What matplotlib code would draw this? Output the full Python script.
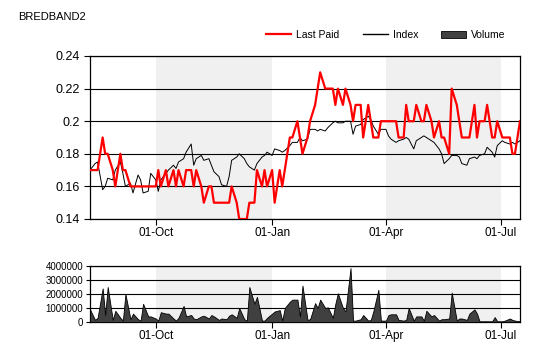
import numpy as np
import pandas as pd
import matplotlib
matplotlib.use("Agg")
import matplotlib.pyplot as plt
import matplotlib.dates as mdates
from matplotlib.ticker import FuncFormatter, MultipleLocator
from matplotlib.lines import Line2D
from matplotlib.patches import Patch

plt.rcParams['font.family'] = ['Liberation Sans', 'DejaVu Sans']

# every second trading day, Aug 2012 - Jul 2013
dates = pd.bdate_range('2012-08-10', periods=122, freq='2B')

last_paid = [
    0.17, 0.17, 0.17, 0.19, 0.18, 0.18, 0.17, 0.16, 0.18, 0.17,
    0.17, 0.16, 0.16, 0.16, 0.16, 0.16, 0.16, 0.16, 0.16, 0.17,
    0.16, 0.17, 0.16, 0.17, 0.16, 0.17, 0.16, 0.17, 0.17, 0.16,
    0.17, 0.16, 0.15, 0.16, 0.16, 0.15, 0.15, 0.15, 0.15, 0.15,
    0.16, 0.15, 0.14, 0.14, 0.14, 0.15, 0.15, 0.17, 0.16, 0.17,
    0.16, 0.17, 0.15, 0.17, 0.16, 0.17, 0.19, 0.19, 0.20, 0.19,
    0.18, 0.19, 0.20, 0.21, 0.22, 0.23, 0.22, 0.22, 0.22, 0.21,
    0.22, 0.21, 0.22, 0.21, 0.20, 0.21, 0.21, 0.19, 0.21, 0.20,
    0.19, 0.19, 0.20, 0.20, 0.20, 0.20, 0.20, 0.19, 0.19, 0.21,
    0.20, 0.20, 0.21, 0.20, 0.20, 0.21, 0.20, 0.19, 0.20, 0.19,
    0.19, 0.18, 0.22, 0.21, 0.20, 0.19, 0.19, 0.19, 0.21, 0.19,
    0.20, 0.20, 0.21, 0.19, 0.19, 0.20, 0.19, 0.19, 0.19, 0.18,
    0.18, 0.20,
]

index = [
    0.170, 0.174, 0.175, 0.158, 0.160, 0.165, 0.164, 0.170, 0.175, 0.168,
    0.160, 0.162, 0.156, 0.167, 0.164, 0.156, 0.157, 0.168, 0.164, 0.157,
    0.164, 0.168, 0.170, 0.173, 0.171, 0.175, 0.177, 0.181, 0.186, 0.173,
    0.177, 0.179, 0.176, 0.177, 0.173, 0.169, 0.166, 0.161, 0.160, 0.166,
    0.176, 0.178, 0.180, 0.177, 0.174, 0.172, 0.170, 0.174, 0.178, 0.179,
    0.181, 0.179, 0.183, 0.182, 0.181, 0.182, 0.185, 0.187, 0.187, 0.190,
    0.188, 0.189, 0.195, 0.195, 0.194, 0.195, 0.194, 0.196, 0.199, 0.200,
    0.199, 0.199, 0.200, 0.200, 0.192, 0.197, 0.198, 0.201, 0.203, 0.201,
    0.197, 0.192, 0.195, 0.195, 0.191, 0.189, 0.187, 0.188, 0.189, 0.190,
    0.189, 0.183, 0.188, 0.190, 0.191, 0.190, 0.188, 0.187, 0.183, 0.180,
    0.174, 0.177, 0.179, 0.179, 0.178, 0.174, 0.173, 0.177, 0.178, 0.177,
    0.179, 0.180, 0.184, 0.181, 0.178, 0.185, 0.188, 0.187, 0.186, 0.187,
    0.186, 0.188,
]

# volume in millions of shares
volume_m = [
    0.9, 0.15, 0.3, 2.4, 0.5, 2.5, 0.15, 0.8, 0.3, 0.1,
    2.0, 0.2, 0.6, 0.2, 0.1, 1.3, 0.4, 0.4, 0.25, 0.1,
    0.7, 0.6, 0.6, 0.25, 0.1, 0.3, 1.15, 0.4, 0.5, 0.25,
    0.2, 0.4, 0.45, 0.25, 0.5, 0.4, 0.15, 0.25, 0.2, 0.45,
    0.55, 0.3, 1.0, 0.2, 0.1, 2.5, 1.3, 1.8, 0.1, 0.1,
    0.3, 0.6, 0.75, 0.85, 0.1, 1.0, 1.45, 1.6, 1.6, 0.4,
    2.6, 0.15, 0.2, 1.35, 1.0, 1.6, 1.0, 1.05, 0.3, 1.3,
    2.05, 1.0, 0.75, 3.85, 0.1, 0.1, 0.2, 0.5, 0.1, 0.15,
    0.75, 2.3, 0.1, 0.1, 0.5, 0.55, 0.55, 0.15, 0.1, 0.15,
    1.0, 0.1, 0.4, 0.4, 0.1, 0.8, 0.4, 0.5, 0.1, 0.2,
    0.2, 0.25, 2.1, 0.1, 0.25, 0.25, 0.15, 0.6, 0.9, 0.6,
    0.05, 0.05, 0.05, 0.05, 0.35, 0.05, 0.05, 0.1, 0.25, 0.15,
    0.1, 0.05,
]
volume = np.array(volume_m) * 1e6

shaded = [('2012-10-01', '2013-01-01'), ('2013-04-01', '2013-07-01')]

fig = plt.figure(figsize=(5.4, 3.6), dpi=100)
ax = fig.add_axes([90/540, 1-219/360, 430/540, 163/360])
axv = fig.add_axes([90/540, 1-322/360, 430/540, 56/360])

for a in (ax, axv):
    for s, e in shaded:
        a.axvspan(pd.Timestamp(s), pd.Timestamp(e), color='#f0f0f0', lw=0, zorder=0)
    a.set_xlim(dates[0], dates[-1])
    a.xaxis.set_major_locator(mdates.MonthLocator(bymonth=[1, 4, 7, 10]))
    a.xaxis.set_major_formatter(mdates.DateFormatter('%d-%b'))
    a.yaxis.grid(True, color='black', lw=0.8)
    a.set_axisbelow(True)
    for sp in a.spines.values():
        sp.set_color('black')
        sp.set_linewidth(0.9)
    a.tick_params(direction='out', length=4, width=0.8, colors='black', labelsize=8.5)
    a.tick_params(axis='x', pad=2)

ax.plot(dates, index, color='black', lw=0.7, zorder=3)
ax.plot(dates, last_paid, color='#ff0000', lw=1.6, zorder=4)
ax.set_ylim(0.14, 0.24)
ax.yaxis.set_major_locator(MultipleLocator(0.02))
ax.yaxis.set_major_formatter(FuncFormatter(lambda v, p: '%g' % round(v, 3)))
ax.tick_params(axis='y', labelsize=9)

axv.fill_between(dates, volume, 0, facecolor='#404040', edgecolor='black', lw=0.6, zorder=3)
axv.set_ylim(0, 4000000)
axv.yaxis.set_major_locator(MultipleLocator(1000000))
axv.yaxis.set_major_formatter(FuncFormatter(lambda v, p: '%d' % v))
axv.tick_params(axis='y', labelsize=7, length=3, pad=2)

fig.text(18/540, 1-17/360, 'BREDBAND2', fontsize=8, va='center', ha='left')

handles = [Line2D([], [], color='#ff0000', lw=1.6),
           Line2D([], [], color='black', lw=1.0),
           Patch(facecolor='#404040', edgecolor='black', lw=0.6)]
fig.legend(handles, ['Last Paid', 'Index', 'Volume'], ncol=3, frameon=False,
           loc='center', bbox_to_anchor=(386/540, 1-35/360), fontsize=7.5,
           handlelength=2.4, handletextpad=0.5, columnspacing=2.2)

fig.savefig('out.png', dpi=100)
